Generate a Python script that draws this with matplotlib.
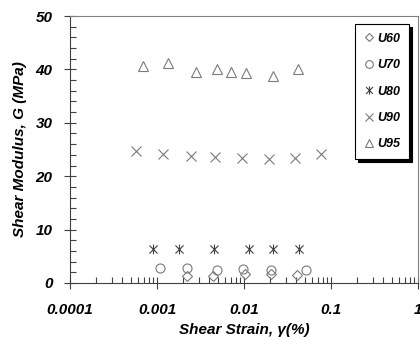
import numpy as np
import matplotlib.pyplot as plt
from matplotlib.path import Path
from matplotlib.ticker import LogLocator, NullFormatter, FixedLocator

plt.rcParams['font.family'] = ['Liberation Sans', 'DejaVu Sans']

# Shear strain (%) and shear modulus G (MPa) per specimen
u60_x = [0.0022, 0.0044, 0.0103, 0.0204, 0.0406]
u60_g = [1.3, 1.3, 1.6, 1.6, 1.5]

u70_x = [0.00108, 0.0022, 0.0049, 0.0098, 0.0204, 0.0516]
u70_g = [2.8, 2.8, 2.5, 2.7, 2.5, 2.4]

u80_x = [0.0009, 0.0018, 0.0045, 0.0114, 0.0215, 0.0428]
u80_g = [6.3, 6.3, 6.4, 6.4, 6.4, 6.4]

u90_x = [0.00057, 0.00117, 0.00246, 0.00465, 0.0095, 0.0194, 0.0386, 0.0767]
u90_g = [24.8, 24.1, 23.8, 23.6, 23.5, 23.3, 23.5, 24.1]

u95_x = [0.00069, 0.00134, 0.0028, 0.0049, 0.0071, 0.0105, 0.0216, 0.0418]
u95_g = [40.6, 41.2, 39.5, 40.0, 39.5, 39.3, 38.7, 40.0]

xticks = [0.0001, 0.001, 0.01, 0.1, 1]
xticklabels = ["0.0001", "0.001", "0.01", "0.1", "1"]
yticks = [0, 10, 20, 30, 40, 50]

# x-cross with a vertical bar, like the Excel asterisk marker
star = Path([(-1, -1), (1, 1), (-1, 1), (1, -1), (0, -1.2), (0, 1.2)],
            [Path.MOVETO, Path.LINETO, Path.MOVETO, Path.LINETO, Path.MOVETO, Path.LINETO])

fig = plt.figure(figsize=(4.2, 3.4), dpi=100)
ax = fig.add_axes([70/420, 57/340, 348/420, 267/340])

grey = "#7a7a7a"
ax.plot(u60_x, u60_g, ls="none", marker="D", ms=5, mfc="none", mec=grey, mew=0.8, label="U60")
ax.plot(u70_x, u70_g, ls="none", marker="o", ms=6.5, mfc="none", mec=grey, mew=0.8, label="U70")
ax.plot(u80_x, u80_g, ls="none", marker=star, ms=7, mfc="none", mec="#404040", mew=0.8, label="U80")
ax.plot(u90_x, u90_g, ls="none", marker="x", ms=6.5, mfc="none", mec=grey, mew=0.8, label="U90")
ax.plot(u95_x, u95_g, ls="none", marker="^", ms=7, mfc="none", mec=grey, mew=0.8, label="U95")

ax.set_xscale("log")
ax.set_xlim(0.0001, 1)
ax.set_ylim(0, 50)
ax.set_xticks(xticks, xticklabels)
ax.xaxis.set_minor_locator(LogLocator(base=10, subs=np.arange(2, 10)))
ax.xaxis.set_minor_formatter(NullFormatter())
ax.set_yticks(yticks)
ax.yaxis.set_minor_locator(FixedLocator(np.arange(0, 51, 2)))

for lab in ax.get_xticklabels() + ax.get_yticklabels():
    lab.set_fontweight("bold")
    lab.set_fontstyle("italic")
    lab.set_fontsize(11)

ax.tick_params(which="major", direction="inout", length=9, width=0.8, color="#404040")
ax.tick_params(which="minor", direction="in", length=4, width=0.8, color="#404040")
ax.tick_params(axis="x", which="major", pad=10)
ax.tick_params(axis="y", which="major", pad=8)

for side in ["top", "right"]:
    ax.spines[side].set_color("#808080")
for side in ["left", "bottom"]:
    ax.spines[side].set_color("#404040")

ax.set_xlabel("Shear Strain, γ(%)", fontsize=11, fontweight="bold", fontstyle="italic", labelpad=4)
ax.set_ylabel("Shear Modulus, G (MPa)", fontsize=11, fontweight="bold", fontstyle="italic", labelpad=6)

leg = ax.legend(loc="upper right", bbox_to_anchor=(0.975, 0.97), fancybox=False,
                shadow={"color": "black", "alpha": 1}, edgecolor="black",
                prop={"weight": "bold", "style": "italic", "size": 9},
                labelspacing=1.15, handlelength=0.8, handletextpad=0.3,
                borderpad=0.7, borderaxespad=0, markerscale=0.85)
leg.get_frame().set_linewidth(0.8)

fig.savefig("out.png", dpi=100)
